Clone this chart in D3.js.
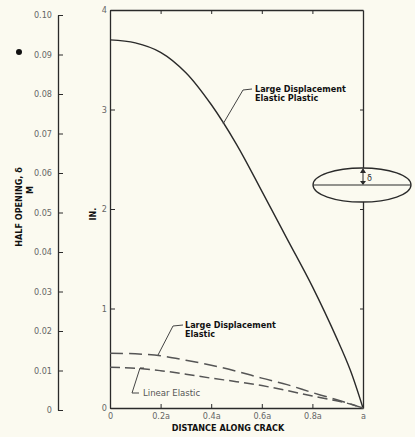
<!DOCTYPE html>
<html>
<head>
<meta charset="utf-8">
<script src="https://cdn.jsdelivr.net/npm/d3@7/dist/d3.min.js"></script>
<style>
  html, body { margin: 0; padding: 0; background: #fbfaf0; }
  svg { display: block; }
  .tick text { font-family: "DejaVu Sans Condensed", "DejaVu Sans", sans-serif; font-size: 9px; fill: #666; }
  .bold { font-family: "DejaVu Sans Condensed", "DejaVu Sans", sans-serif; font-weight: bold; font-size: 9px; fill: #111; }
</style>
</head>
<body>
<svg id="chart" width="415" height="437"></svg>
<script>
// Fractional position along the crack (x / a)
const positions = [0, 0.1, 0.2, 0.3, 0.4, 0.5, 0.6, 0.7, 0.8, 0.9, 0.95, 1.0];
// Half opening, inches
const largeDispElasticPlastic = [3.70, 3.67, 3.575, 3.37, 3.05, 2.65, 2.18, 1.70, 1.22, 0.68, 0.38, 0];
const largeDispElastic        = [0.55, 0.545, 0.525, 0.48, 0.43, 0.37, 0.30, 0.235, 0.155, 0.08, 0.04, 0];
const linearElastic           = [0.41, 0.40, 0.375, 0.34, 0.30, 0.265, 0.225, 0.175, 0.12, 0.07, 0.04, 0];

const xTicks = [0, 0.2, 0.4, 0.6, 0.8, 1.0];
const xTickLabels = ["0", "0.2a", "0.4a", "0.6a", "0.8a", "a"];
const inchTicks = [0, 1, 2, 3, 4];
const meterTicks = [0, 0.01, 0.02, 0.03, 0.04, 0.05, 0.06, 0.07, 0.08, 0.09, 0.10];

const svg = d3.select("#chart");
const ink = "#2a2a2a";

const x = d3.scaleLinear().domain([0, 1]).range([110, 363]);
const yIn = d3.scaleLinear().domain([0, 4]).range([408, 10]);
const yM = d3.scaleLinear().domain([0, 0.10]).range([410, 15]);

function styleAxis(g) {
  g.selectAll("path.domain").attr("stroke", ink).attr("stroke-width", 1.3);
  g.selectAll(".tick line").attr("stroke", ink).attr("stroke-width", 1);
}

// Metric axis (left)
svg.append("g")
  .attr("transform", "translate(58,0)")
  .call(d3.axisLeft(yM).tickValues(meterTicks)
    .tickFormat(d => d === 0 ? "0" : d3.format(".2f")(d))
    .tickSizeInner(-5).tickSizeOuter(0).tickPadding(6))
  .call(styleAxis);

// Inch axis (inner left)
svg.append("g")
  .attr("transform", "translate(110,0)")
  .call(d3.axisLeft(yIn).tickValues(inchTicks).tickFormat(d3.format("d"))
    .tickSizeInner(-5).tickSizeOuter(0).tickPadding(3))
  .call(styleAxis);

// Bottom axis
svg.append("g")
  .attr("transform", "translate(0,408)")
  .call(d3.axisBottom(x).tickValues(xTicks).tickFormat((d, i) => xTickLabels[i])
    .tickSizeInner(-4).tickSizeOuter(0).tickPadding(5))
  .call(styleAxis);

// Top frame
svg.append("g")
  .attr("transform", "translate(0,10)")
  .call(d3.axisTop(x).tickValues(xTicks.slice(1, 5)).tickFormat("")
    .tickSizeInner(-4).tickSizeOuter(0))
  .call(styleAxis);

// Right frame
svg.append("g")
  .attr("transform", "translate(363,0)")
  .call(d3.axisLeft(yIn).tickValues([1, 2, 3]).tickFormat("")
    .tickSizeInner(3).tickSizeOuter(0))
  .call(styleAxis);

// Curves
const line = d3.line().x((d, i) => x(positions[i])).y(d => yIn(d))
  .curve(d3.curveCatmullRom.alpha(0.5));

svg.append("path").datum(largeDispElasticPlastic)
  .attr("d", line).attr("fill", "none").attr("stroke", ink).attr("stroke-width", 1.4);
svg.append("path").datum(largeDispElastic)
  .attr("d", line).attr("fill", "none").attr("stroke", "#555").attr("stroke-width", 1.5)
  .attr("stroke-dasharray", "13,6");
svg.append("path").datum(linearElastic)
  .attr("d", line).attr("fill", "none").attr("stroke", "#555").attr("stroke-width", 1.5)
  .attr("stroke-dasharray", "10,5");

// Curve labels with leaders
function leader(pts) {
  svg.append("path").attr("d", d3.line()(pts))
    .attr("fill", "none").attr("stroke", "#444").attr("stroke-width", 1);
}
leader([[252, 89], [243, 90], [223, 124]]);
svg.append("text").attr("class", "bold").attr("x", 255).attr("y", 92).text("Large Displacement");
svg.append("text").attr("class", "bold").attr("x", 255).attr("y", 101).text("Elastic Plastic");

leader([[183, 325], [173, 326], [158, 355]]);
svg.append("text").attr("class", "bold").attr("x", 185).attr("y", 328).text("Large Displacement");
svg.append("text").attr("class", "bold").attr("x", 185).attr("y", 337).text("Elastic");

leader([[144, 368], [140, 368], [132, 393], [139, 393]]);
svg.append("text").attr("x", 143).attr("y", 396)
  .attr("font-family", "DejaVu Sans Condensed, DejaVu Sans, sans-serif")
  .attr("font-size", 9.5).attr("fill", "#555").text("Linear Elastic");

// Crack sketch: ellipse with half opening marker
svg.append("ellipse").attr("cx", 362).attr("cy", 185).attr("rx", 49).attr("ry", 17)
  .attr("fill", "#fbfaf0").attr("stroke", ink).attr("stroke-width", 1.3);
svg.append("line").attr("x1", 313).attr("x2", 411).attr("y1", 185).attr("y2", 185)
  .attr("stroke", ink).attr("stroke-width", 1.2);
svg.append("line").attr("x1", 363).attr("x2", 363).attr("y1", 171).attr("y2", 184)
  .attr("stroke", ink).attr("stroke-width", 1);
svg.append("path").attr("d", "M360,173 L363,168 L366,173 Z").attr("fill", ink);
svg.append("path").attr("d", "M360,181 L363,185 L366,181 Z").attr("fill", ink);
svg.append("text").attr("x", 367).attr("y", 181)
  .attr("font-family", "DejaVu Sans Condensed, DejaVu Sans, sans-serif")
  .attr("font-size", 9).attr("fill", "#333").text("δ");

// Axis titles
svg.append("text").attr("class", "bold").attr("text-anchor", "middle")
  .attr("font-size", 9.5)
  .attr("transform", "translate(22,207) rotate(-90)").text("HALF OPENING, δ");
svg.append("text").attr("class", "bold").attr("text-anchor", "middle")
  .attr("transform", "translate(33,190) rotate(-90)").text("M");
svg.append("text").attr("class", "bold").attr("text-anchor", "middle")
  .attr("transform", "translate(96,214) rotate(-90)").text("IN.");
svg.append("text").attr("class", "bold").attr("text-anchor", "middle")
  .attr("x", 228).attr("y", 431).attr("fill", "#333").text("DISTANCE ALONG CRACK");

// Bullet mark beside the metric axis
svg.append("circle").attr("cx", 19).attr("cy", 52).attr("r", 3).attr("fill", "#111");
</script>
</body>
</html>
